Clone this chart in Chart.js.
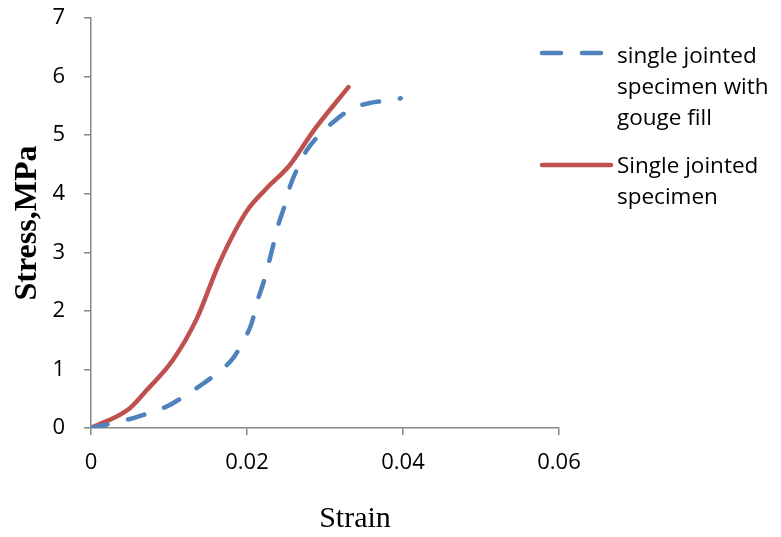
<!DOCTYPE html>
<html>
<head>
<meta charset="utf-8">
<script src="https://cdn.jsdelivr.net/npm/chart.js@4"></script>
<style>
  html, body { margin: 0; padding: 0; background: #fff; }
  #wrap { width: 781px; height: 537px; position: relative; }
</style>
</head>
<body>
<div id="wrap"><canvas id="c" width="781" height="537"></canvas></div>
<script>
// data
const strainGouge = [0, 0.0049, 0.0071, 0.0099, 0.0118, 0.0144, 0.0161, 0.0182, 0.0195, 0.0206, 0.0212, 0.0221, 0.0227, 0.0234, 0.0240, 0.0249, 0.0255, 0.0266, 0.0277, 0.0294, 0.0313, 0.0334, 0.0358, 0.0386, 0.0397];
const stressGouge = [0, 0.15, 0.24, 0.38, 0.53, 0.76, 0.93, 1.19, 1.48, 1.79, 2.11, 2.48, 2.77, 3.14, 3.46, 3.83, 4.12, 4.47, 4.75, 5.02, 5.25, 5.45, 5.55, 5.60, 5.63];
const strainJoint = [0, 0.0049, 0.0071, 0.0105, 0.0135, 0.0165, 0.0199, 0.0225, 0.0255, 0.0285, 0.0330];
const stressJoint = [0, 0.33, 0.64, 1.16, 1.85, 2.83, 3.69, 4.09, 4.49, 5.07, 5.82];
const xTicks = [0, 0.02, 0.04, 0.06];
const yTicks = [0, 1, 2, 3, 4, 5, 6, 7];
const seriesNames = [['single jointed', 'specimen with', 'gouge fill'], ['Single jointed', 'specimen']];

const BLUE = '#4F81BD';
const RED = '#C0504D';
const AXIS = '#868686';
const FONT = '"Open Sans", "Liberation Sans", sans-serif';

function pts(xs, ys) {
  return xs.map((x, i) => ({ x: x, y: ys[i] }));
}

// legend + x title drawn by hand to sit where the original has them
const extras = {
  id: 'extras',
  afterDraw(chart) {
    const ctx = chart.ctx;
    ctx.save();
    ctx.lineWidth = 4.5;
    ctx.lineCap = 'round';
    // dashed sample
    ctx.strokeStyle = BLUE;
    ctx.beginPath();
    ctx.moveTo(542, 53); ctx.lineTo(561, 53);
    ctx.moveTo(582, 53); ctx.lineTo(601, 53);
    ctx.stroke();
    // solid sample
    ctx.strokeStyle = RED;
    ctx.beginPath();
    ctx.moveTo(542, 165); ctx.lineTo(611, 165);
    ctx.stroke();

    ctx.fillStyle = '#000';
    ctx.font = '22.5px ' + FONT;
    ctx.textBaseline = 'alphabetic';
    ctx.textAlign = 'left';
    seriesNames[0].forEach((t, i) => ctx.fillText(t, 617, 63 + i * 31));
    seriesNames[1].forEach((t, i) => ctx.fillText(t, 617, 173 + i * 31));

    ctx.font = '30px "Liberation Serif", "Times New Roman", serif';
    ctx.textAlign = 'center';
    ctx.fillText('Strain', 355, 527);
    ctx.restore();
  }
};

new Chart(document.getElementById('c'), {
  type: 'scatter',
  data: {
    datasets: [{
      label: seriesNames[0].join(' '),
      data: pts(strainGouge, stressGouge),
      showLine: true,
      borderColor: BLUE,
      borderWidth: 4.5,
      borderDash: [17, 21],
      borderCapStyle: 'round',
      pointRadius: 0,
      cubicInterpolationMode: 'monotone'
    }, {
      label: seriesNames[1].join(' '),
      data: pts(strainJoint, stressJoint),
      showLine: true,
      borderColor: RED,
      borderWidth: 4.5,
      borderCapStyle: 'round',
      pointRadius: 0,
      cubicInterpolationMode: 'monotone'
    }]
  },
  options: {
    responsive: false,
    animation: false,
    layout: { padding: { top: 18, right: 222, left: 0, bottom: 0 } },
    plugins: { legend: { display: false }, tooltip: { enabled: false } },
    scales: {
      x: {
        min: 0, max: 0.06,
        afterBuildTicks: s => { s.ticks = xTicks.map(v => ({ value: v })); },
        afterFit: s => { s.height = 109; },
        grid: { drawOnChartArea: false, tickLength: 7, color: AXIS, lineWidth: 1.5 },
        border: { color: AXIS, width: 1.5 },
        ticks: { color: '#000', font: { family: FONT, size: 22 }, padding: 15, maxRotation: 0,
          callback: v => String(+v.toFixed(2)) }
      },
      y: {
        min: 0, max: 7,
        afterBuildTicks: s => { s.ticks = yTicks.map(v => ({ value: v })); },
        afterFit: s => { s.width = 91; s.paddingTop = 0; s.paddingBottom = 0; },
        grid: { drawOnChartArea: false, tickLength: 7, color: AXIS, lineWidth: 1.5 },
        border: { color: AXIS, width: 1.5 },
        ticks: { color: '#000', font: { family: FONT, size: 22 }, padding: 19 },
        title: {
          display: true,
          text: 'Stress,MPa',
          color: '#000',
          font: { family: '"Liberation Serif", "Times New Roman", serif', size: 32, weight: 'bold' },
          padding: { top: 9, bottom: 0 }
        }
      }
    }
  },
  plugins: [extras]
});
</script>
</body>
</html>
